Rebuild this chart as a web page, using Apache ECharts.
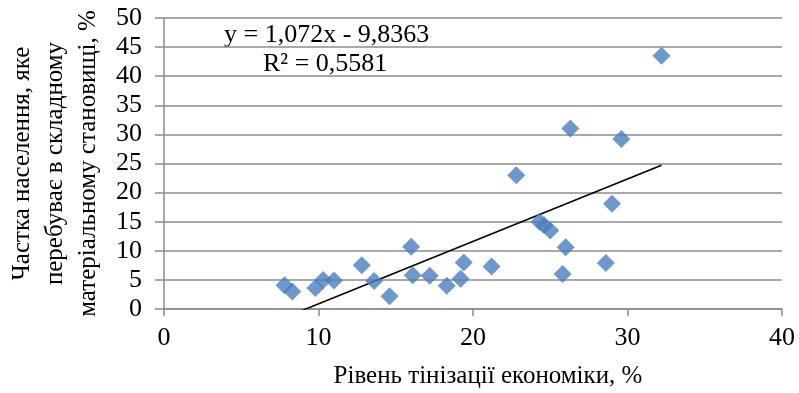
<!DOCTYPE html>
<html><head><meta charset="utf-8">
<script src="https://cdn.jsdelivr.net/npm/echarts@6/dist/echarts.min.js"></script>
<style>html,body{margin:0;padding:0;background:#fff}#c{width:799px;height:393px}</style>
</head><body><div id="c"></div>
<script>
const xValues = [7.8, 8.3, 9.8, 10.3, 11.0, 12.8, 13.6, 14.6, 16.0, 16.1, 17.2, 18.3, 19.2, 19.4, 21.2, 22.8, 24.3, 24.6, 25.0, 25.8, 26.0, 26.3, 28.6, 29.0, 29.6, 32.2];
const yValues = [4.1, 3.0, 3.6, 5.0, 4.9, 7.5, 4.8, 2.2, 10.7, 5.8, 5.7, 4.0, 5.2, 8.0, 7.3, 23.0, 15.0, 14.4, 13.5, 6.0, 10.6, 31.0, 7.9, 18.1, 29.2, 43.5];
const slope = 1.072, intercept = -9.8363;
const eqText = 'y = 1,072x - 9,8363';
const r2Text = 'R² = 0,5581';
const xTitle = 'Рівень тінізації економіки, %';
const yTitle = 'Частка населення, яке\nперебуває в складному\nматеріальному становищі, %';

const pts = xValues.map((x, i) => [x, yValues[i]]);
const xMin = Math.min(...xValues), xMax = Math.max(...xValues);
const trend = [[xMin, slope * xMin + intercept], [xMax, slope * xMax + intercept]];
const font = '"Liberation Serif", "Times New Roman", serif';
const chart = echarts.init(document.getElementById('c'), null, {renderer: 'canvas'});
chart.setOption({
  animation: false,
  grid: {left: 164, right: 17, top: 18, bottom: 84, containLabel: false, outerBoundsMode: 'none'},
  xAxis: {
    type: 'value', min: 0, max: 40, interval: 10,
    name: xTitle, nameLocation: 'middle', nameGap: 55,
    nameTextStyle: {fontFamily: font, fontSize: 25, color: '#000', padding: [0, 0, 0, 30]},
    axisLine: {show: true, lineStyle: {color: '#8c8c8c', width: 1.5}},
    axisTick: {show: true, length: 7, lineStyle: {color: '#8c8c8c', width: 1.5}},
    axisLabel: {fontFamily: font, fontSize: 26, color: '#000', margin: 16},
    splitLine: {show: false}
  },
  yAxis: {
    type: 'value', min: 0, max: 50, interval: 5,
    name: yTitle, nameLocation: 'middle', nameGap: 58, nameRotate: 90,
    nameTextStyle: {fontFamily: font, fontSize: 25, color: '#000', lineHeight: 33},
    axisLine: {show: true, lineStyle: {color: '#8c8c8c', width: 1.5}},
    axisTick: {show: true, length: 9, lineStyle: {color: '#8c8c8c', width: 1.5}},
    axisLabel: {fontFamily: font, fontSize: 26, color: '#000', margin: 22},
    splitLine: {show: true, lineStyle: {color: '#8c8c8c', width: 1.5}}
  },
  series: [
    {type: 'line', data: trend, symbol: 'none', clip: true,
     lineStyle: {color: '#000', width: 1.6}, z: 3},
    {type: 'scatter', data: pts, symbol: 'diamond', symbolSize: 18,
     itemStyle: {color: '#4a7ebb'}, z: 4}
  ],
  graphic: [
    {type: 'text', left: 224, top: 22, style: {text: eqText, fontFamily: font, fontSize: 26, fill: '#000'}},
    {type: 'text', left: 263, top: 51, style: {text: r2Text, fontFamily: font, fontSize: 26, fill: '#000'}}
  ]
});
</script></body></html>
